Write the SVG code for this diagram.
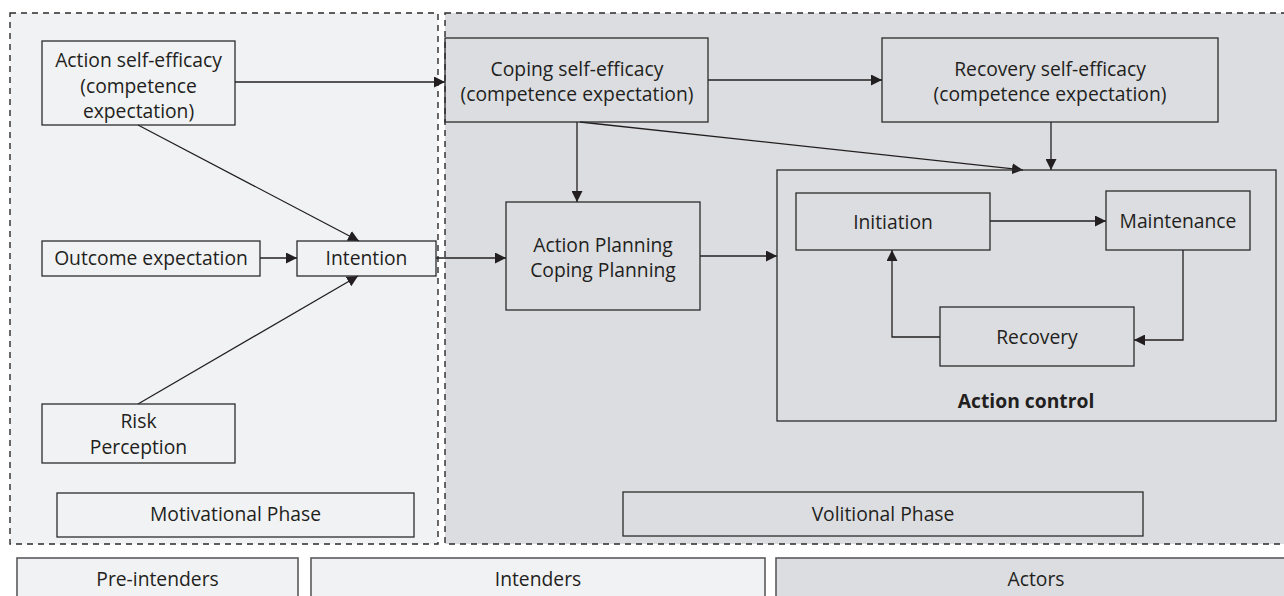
<svg xmlns="http://www.w3.org/2000/svg" width="1284" height="596" viewBox="0 0 1284 596">
  <style>
    .box { fill: none; stroke: #2b2b2b; stroke-width: 1.3; }
    .panel { stroke: #2b2b2b; stroke-width: 1.4; stroke-dasharray: 6 5; }
    .stage { stroke: #5a5a5c; stroke-width: 1.6; }
    .t { font-family: "Open Sans", "Liberation Sans", sans-serif; font-size: 19.3px; fill: #231f20; text-anchor: middle; }
    .b { font-weight: bold; }
    .edge { fill: none; stroke: #231f20; stroke-width: 1.3; }
  </style>
  <defs>
    <marker id="arrow" viewBox="0 0 11 11" refX="11" refY="5.5" markerWidth="11" markerHeight="11" markerUnits="userSpaceOnUse" orient="auto">
      <path d="M0,0 L11,5.5 L0,11 z" fill="#231f20"/>
    </marker>
  </defs>

  <rect width="1284" height="596" fill="#ffffff"/>

  <!-- phase panels -->
  <g id="motivational-panel">
    <rect class="panel" x="10" y="13" width="428" height="531" fill="#f1f2f4"/>
  </g>
  <g id="volitional-panel">
    <rect class="panel" x="445" y="13" width="845" height="531" fill="#dcdde0"/>
  </g>

  <!-- connectors -->
  <g id="connectors">
    <line class="edge" x1="235" y1="82" x2="445" y2="82" marker-end="url(#arrow)"/>
    <line class="edge" x1="138" y1="125" x2="359" y2="241" marker-end="url(#arrow)"/>
    <line class="edge" x1="260" y1="258" x2="297" y2="258" marker-end="url(#arrow)"/>
    <line class="edge" x1="138" y1="404" x2="358" y2="276" marker-end="url(#arrow)"/>
    <line class="edge" x1="436" y1="258" x2="506" y2="258" marker-end="url(#arrow)"/>
    <line class="edge" x1="708" y1="80" x2="882" y2="80" marker-end="url(#arrow)"/>
    <line class="edge" x1="577" y1="122" x2="577" y2="202" marker-end="url(#arrow)"/>
    <line class="edge" x1="580" y1="122" x2="1023" y2="170" marker-end="url(#arrow)"/>
    <line class="edge" x1="1051" y1="122" x2="1051" y2="170" marker-end="url(#arrow)"/>
    <line class="edge" x1="700" y1="256" x2="777" y2="256" marker-end="url(#arrow)"/>
    <line class="edge" x1="990" y1="221" x2="1106" y2="221" marker-end="url(#arrow)"/>
    <polyline class="edge" points="1183,250 1183,340 1134,340" marker-end="url(#arrow)"/>
    <polyline class="edge" points="940,337 892,337 892,250" marker-end="url(#arrow)"/>
  </g>

  <!-- motivational phase nodes -->
  <g id="action-self-efficacy">
    <rect class="box" x="42" y="41" width="193" height="84"/>
    <text class="t" x="138.5" y="67">Action self-efficacy</text>
    <text class="t" x="138.5" y="93">(competence</text>
    <text class="t" x="138.5" y="118">expectation)</text>
  </g>
  <g id="outcome-expectation">
    <rect class="box" x="42" y="241" width="218" height="35"/>
    <text class="t" x="151" y="265">Outcome expectation</text>
  </g>
  <g id="intention">
    <rect class="box" x="297" y="241" width="139" height="35"/>
    <text class="t" x="366.5" y="265">Intention</text>
  </g>
  <g id="risk-perception">
    <rect class="box" x="42" y="404" width="193" height="59"/>
    <text class="t" x="138.5" y="428">Risk</text>
    <text class="t" x="138.5" y="454">Perception</text>
  </g>
  <g id="motivational-phase">
    <rect class="box" x="57" y="493" width="357" height="44"/>
    <text class="t" x="235.5" y="521">Motivational Phase</text>
  </g>

  <!-- volitional phase nodes -->
  <g id="coping-self-efficacy">
    <rect class="box" x="445" y="38" width="263" height="84"/>
    <text class="t" x="577" y="76">Coping self-efficacy</text>
    <text class="t" x="577" y="101">(competence expectation)</text>
  </g>
  <g id="recovery-self-efficacy">
    <rect class="box" x="882" y="38" width="336" height="84"/>
    <text class="t" x="1050" y="76">Recovery self-efficacy</text>
    <text class="t" x="1050" y="101">(competence expectation)</text>
  </g>
  <g id="planning">
    <rect class="box" x="506" y="202" width="194" height="108"/>
    <text class="t" x="603" y="252">Action Planning</text>
    <text class="t" x="603" y="277">Coping Planning</text>
  </g>
  <g id="action-control">
    <rect class="box" x="777" y="170" width="499" height="251"/>
    <text class="t b" x="1026" y="408">Action control</text>
  </g>
  <g id="initiation">
    <rect class="box" x="796" y="193" width="194" height="57"/>
    <text class="t" x="893" y="229">Initiation</text>
  </g>
  <g id="maintenance">
    <rect class="box" x="1106" y="191" width="144" height="59"/>
    <text class="t" x="1178" y="228">Maintenance</text>
  </g>
  <g id="recovery">
    <rect class="box" x="940" y="307" width="194" height="59"/>
    <text class="t" x="1037" y="344">Recovery</text>
  </g>
  <g id="volitional-phase">
    <rect class="box" x="623" y="492" width="520" height="44"/>
    <text class="t" x="883" y="521">Volitional Phase</text>
  </g>

  <!-- stage bar -->
  <g id="pre-intenders">
    <rect class="stage" x="17" y="558" width="281" height="50" fill="#f1f2f4"/>
    <text class="t" x="157.5" y="586">Pre-intenders</text>
  </g>
  <g id="intenders">
    <rect class="stage" x="311" y="558" width="454" height="50" fill="#f1f2f4"/>
    <text class="t" x="538" y="586">Intenders</text>
  </g>
  <g id="actors">
    <rect class="stage" x="776" y="558" width="520" height="50" fill="#dcdde0"/>
    <text class="t" x="1036" y="586">Actors</text>
  </g>
</svg>
